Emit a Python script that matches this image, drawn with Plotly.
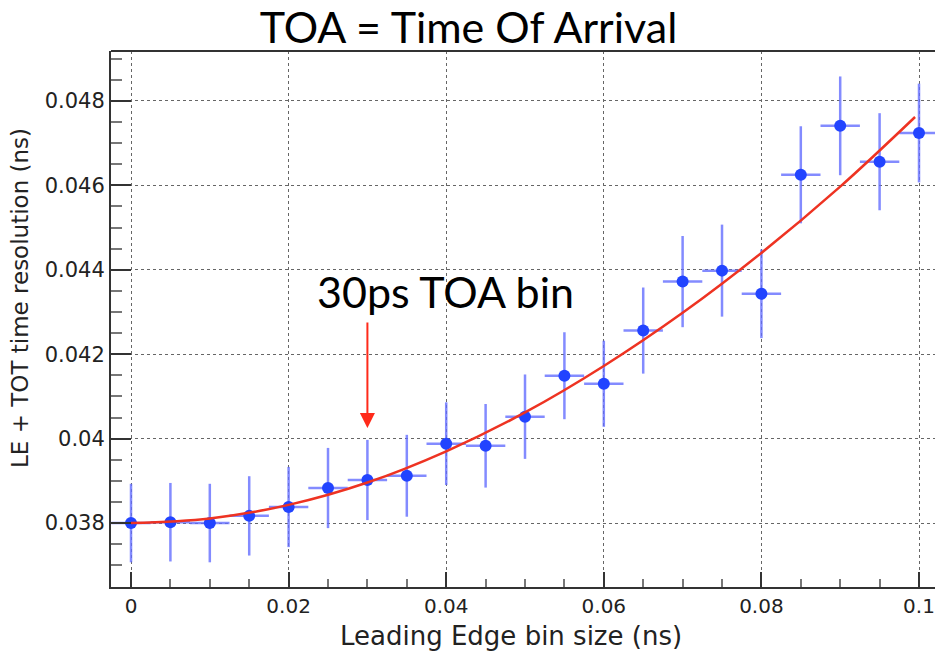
import plotly.graph_objects as go

# ---- data ----
bin_size = [0.0, 0.005, 0.01, 0.015, 0.02, 0.025, 0.03, 0.035, 0.04, 0.045, 0.05,
            0.055, 0.06, 0.065, 0.07, 0.075, 0.08, 0.085, 0.09, 0.095, 0.1]
resolution = [0.03800, 0.03802, 0.03800, 0.03817, 0.03838, 0.03883, 0.03902, 0.03912,
              0.03988, 0.03983, 0.04052, 0.04149, 0.04130, 0.04256, 0.04372, 0.04398,
              0.04343, 0.04625, 0.04741, 0.04656, 0.04724]
res_err = [0.00093, 0.00093, 0.00093, 0.00094, 0.00095, 0.00095, 0.00095, 0.00097,
           0.00098, 0.00099, 0.00100, 0.00103, 0.00102, 0.00102, 0.00108, 0.00109,
           0.00105, 0.00115, 0.00117, 0.00115, 0.00117]
bin_halfwidth = [0.0025] * len(bin_size)

fit_x = [0.0, 0.01, 0.02, 0.03, 0.04, 0.05, 0.06, 0.07, 0.08, 0.09, 0.0995]
fit_y = [0.03800, 0.03811, 0.03843, 0.03896, 0.03970, 0.04062, 0.04172, 0.04298,
         0.04440, 0.04597, 0.04762]

x_tickvals = [0, 0.02, 0.04, 0.06, 0.08, 0.1]
x_ticktext = ["0", "0.02", "0.04", "0.06", "0.08", "0.1"]
y_tickvals = [0.038, 0.040, 0.042, 0.044, 0.046, 0.048]
y_ticktext = ["0.038", "0.04", "0.042", "0.044", "0.046", "0.048"]

title_text = "TOA = Time Of Arrival"
x_title = "Leading Edge bin size (ns)"
y_title = "LE + TOT time resolution (ns)"
note_text = "30ps TOA bin"
note_x = 0.03
note_tip_y = 0.04025

AX = "#333333"
GRID = "#666666"

fig = go.Figure()
fig.add_trace(go.Scatter(
    x=bin_size, y=resolution, mode="markers",
    marker=dict(color="#2244ff", size=12, line=dict(width=0)),
    error_y=dict(type="data", array=res_err, visible=True, color="rgba(100,110,255,0.8)",
                 thickness=2.5, width=0),
    error_x=dict(type="data", array=bin_halfwidth, visible=True, color="rgba(100,110,255,0.8)",
                 thickness=2.5, width=0),
    showlegend=False, hoverinfo="skip"))
fig.add_trace(go.Scatter(
    x=fit_x, y=fit_y, mode="lines", line=dict(color="#ee3322", width=2.5, shape="spline"),
    showlegend=False, hoverinfo="skip"))

xtickfont = dict(family="DejaVu Sans", size=20, color="#222222")
ytickfont = dict(family="DejaVu Sans", size=21, color="#222222")
fig.update_layout(
    width=935, height=652,
    margin=dict(l=111, r=0, t=51, b=65),
    paper_bgcolor="white", plot_bgcolor="white",
    title=dict(text=title_text, x=468.5 / 935, xref="container", xanchor="center",
               y=1 - 28 / 652, yref="container", yanchor="middle",
               font=dict(family="Lato", size=43, color="black")),
    xaxis=dict(range=[-0.00254, 0.10203], tickvals=x_tickvals, ticktext=x_ticktext,
               showline=True, linecolor=AX, linewidth=2, ticks="inside", ticklen=15,
               tickwidth=2, tickcolor=AX, tickfont=xtickfont,
               showgrid=True, gridcolor=GRID, griddash="dot", gridwidth=1, zeroline=False,
               minor=dict(dtick=0.005, tick0=0, ticks="inside", ticklen=8, tickwidth=2,
                          tickcolor="#777777", showgrid=False)),
    yaxis=dict(range=[0.036485, 0.049183], tickvals=y_tickvals, ticktext=y_ticktext,
               showline=True, linecolor=AX, linewidth=2, ticks="inside", ticklen=20,
               tickwidth=2, tickcolor=AX, tickfont=ytickfont,
               showgrid=True, gridcolor=GRID, griddash="dot", gridwidth=1, zeroline=False,
               minor=dict(dtick=0.0005, tick0=0.038, ticks="inside", ticklen=11, tickwidth=2,
                          tickcolor="#777777", showgrid=False)),
    shapes=[dict(type="line", xref="paper", yref="paper", x0=0, x1=1, y0=1, y1=1,
                 line=dict(color=AX, width=2))],
    annotations=[
        dict(text=x_title, xref="paper", yref="paper", x=(511 - 111) / 824, y=-49 / 536,
             xanchor="center", yanchor="middle", showarrow=False,
             font=dict(family="DejaVu Sans", size=26, color="#222222")),
        dict(text=y_title, xref="paper", yref="paper", x=-91 / 824, y=(587 - 298) / 536,
             xanchor="center", yanchor="middle", textangle=-90, showarrow=False,
             font=dict(family="DejaVu Sans", size=23, color="#222222")),
        dict(text=note_text, xref="paper", yref="paper", x=(445 - 111) / 824, y=(587 - 291) / 536,
             xanchor="center", yanchor="middle", showarrow=False,
             font=dict(family="Lato", size=43, color="black")),
        dict(text="", x=note_x, y=note_tip_y, xref="x", yref="y", showarrow=True,
             ax=0, ay=-107, arrowhead=2, arrowwidth=2, arrowsize=1.5, arrowcolor="#ff2a1a"),
    ],
)

fig.write_html("out.html")
